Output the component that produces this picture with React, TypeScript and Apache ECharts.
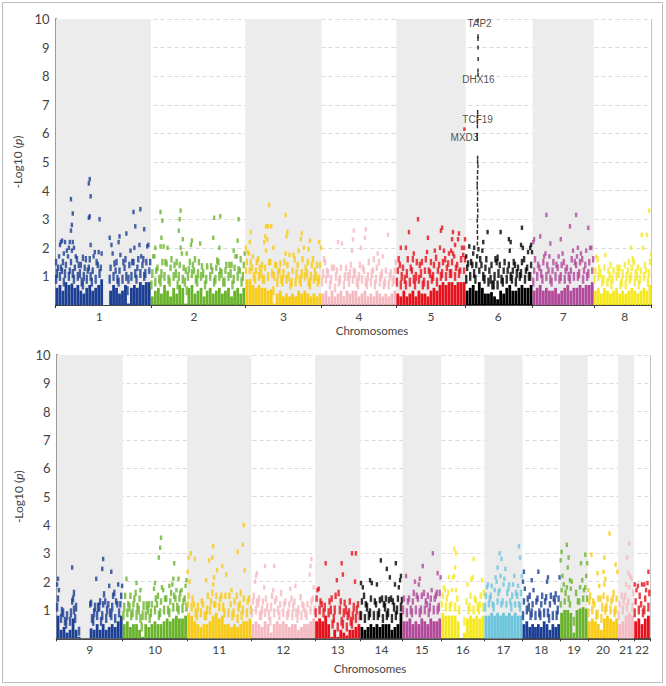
import React, { useEffect, useRef } from "react";
import * as echarts from "echarts";

// Chromosome spans (Mb as fitted to the plot)
const topNames = ["1", "2", "3", "4", "5", "6", "7", "8"];
const topLengths = [246, 244, 197, 193, 179, 173, 158, 149];
const bottomNames = ["9", "10", "11", "12", "13", "14", "15", "16", "17", "18", "19", "20", "21", "22"];
const bottomLengths = [141, 137, 137, 135.5, 96.5, 89.5, 82.5, 92, 81, 80, 59, 64.5, 34, 34];
const topColors = ["#1c3f94", "#6ab42d", "#f9cb14", "#f5b9c2", "#e8121d", "#000000", "#b2499b", "#f5e91e"];
const bottomColors = ["#1c3f94", "#6ab42d", "#f9cb14", "#f5b9c2", "#e8121d", "#000000", "#b2499b", "#f5e91e", "#6cc5dc", "#1c3f94", "#6ab42d", "#f9cb14", "#f5b9c2", "#e8121d"];

// Each column: first value is the solid height, the rest are separate hits above it
const chr1 = [[.6,.9,1.1,1.3,1.5],[.7,1,1.3,1.7,2.1,2.2],[.5,.8,1.2,1.5,1.8,2.25],[.8,1.1,1.4,1.9,2.2],[.7,1,1.2,1.7,2,2.2],[.75,1.1,1.5,1.9,2.2,2.6,2.8,3.2,3.7],[.6,.9,1.3,1.7,2],[.7,1,1.4,1.6],[.5,.8,1.1,1.4],[.4,.7,1,1.3,1.65],[.6,.9,1.2,1.6],[.7,1,1.3,1.6,2.1,3.05,3.1,3.8,4.25,4.4],[.5,.8,1.2,1.7],[.6,.9,1.5,1.85],[.7,1.1,1.4,1.85,3],[.9,1.3,1.8],[0],[0],[.5,.9,1.3,2.1,2.35],[.7,1,1.45,1.8],[.6,.9,1.2,1.5],[.4,.8,1.2,1.75,2.2,2.4],[.5,.9,1.5],[.7,1,1.3,1.6,2.5],[.05,.5,.9,1.4],[.6,1,1.5,1.9],[.7,1.1,1.5,2,2.75,3.25],[.6,.9,1.3,1.6],[.8,1.1,1.7,2.1,3.35],[.7,1,1.4,1.6,2.65],[.8,1.1,1.5,2.05],[.8,1.2,1.5,2.1]];
const chr2 = [[.3,.7,1.1,1.7],[.5,.8,1.2,1.7,2],[.6,.9,1.3],[.4,.8,1.1,1.5,2.05,2.35,2.95,3.25],[.7,1,1.5,2.05],[.5,.9,1.45,2],[.3,.8,1.3,1.6],[.6,1,1.4],[.4,.7,1.1,1.5],[.7,1,1.4,2,2.6,3,3.3],[.6,.9,1.3,1.8,2.3],[.05,.5,.8,1.2,1.8],[.6,1,1.25,1.5],[.7,1.1,1.4,2.1,2.25],[.4,.9,1.2,1.6],[.5,.8,1.1,1.5],[.6,1,1.35,2.15],[.3,.7,1.1],[.5,.9,1.35],[.6,1,1.35],[.4,.8,1.2,2.35,3.05],[.5,.9,1.3,1.55],[.6,1,1.2,1.5,2,3.1],[.4,.8,1.1],[.5,.8,1.2,1.4],[.6,1,1.4],[.3,.7,1.1,1.4],[.5,.9,1.3,1.7,1.9],[.6,1,1.25,1.7,2.25,3],[.4,.8,1.2,1.6],[.6,1,1.4,1.8]];
const chr3 = [[.9,1.2,1.5,1.85,2],[.9,1.2,1.5,1.8,2.2,2.55],[.7,1,1.3,1.7],[.6,.9,1.2,1.5],[.7,1,1.3,1.6],[.6,.9,1.1,1.4],[.6,.9,1.3,1.9,2.2,2.4,2.75],[.5,1,1.5,2.3,2.75,3.5],[.55,1.1,1.5,2.75],[.05,.5,1,1.4,2],[.4,.8,1.1,1.4],[.5,.9,1.2,1.45],[.3,.8,1.1,1.5],[.4,.9,1.4,1.8,2.4,2.55,3.15],[.3,.7,1,1.75],[.4,.8,1.2,1.75],[.3,.8,1.1,1.6],[.5,.9,1.4,1.9],[.4,.8,1.1,1.6,2.3,2.5],[.5,1,1.3,2],[.4,.8,1.1,1.5,1.95],[.3,.7,1,1.4,2.25],[.4,.9,1.2,1.6],[.3,.8,1,1.4],[.4,.9,1.4,2,2.2]];
const chr4 = [[.4,.8,1.1,1.6],[.5,.9,1.2,1.5],[.3,.7,1.1],[.5,.9,1.3],[.3,.6,1,1.3],[.4,.8,1.2,2.2],[.5,.9,1.3,2.15],[.3,.7,1],[.5,1,1.3],[.4,.8,1.1,1.4],[.5,.9,1.2,1.9,2.3,2.6],[.5,.8,1.1],[.3,.7,1,1.4],[.4,.9,1.3,2],[.5,.8,1.2,2.35,2.65],[.3,.7,1,1.5],[.4,.8,1.1],[.3,.7,1.2,1.6],[.5,.9,1.3,1.8],[.4,.8,1,1.5],[.3,.7,1.1,1.7],[.4,.8,1.2],[.3,.7,1,2.45],[.4,.8,1.1],[.5,.9,1.2,1.5]];
const chr5 = [[.4,.8,1.2,1.6],[.3,.7,1,1.4,2],[.5,.9,1.3],[.3,.7,1.1,1.6,2],[.4,.8,1.3,2.55],[.5,.9,1.2,1.6,1.8],[.3,.7,1,1.5],[.5,.9,1.4,3],[.4,.7,1.1,1.5],[.4,.8,1.2,1.6],[.3,.7,1.2,1.85,2.35],[.5,.9,1.1,1.5],[.6,1,1.4,1.9],[.5,.8,1.2,1.65],[.7,1,1.4,2,2.6],[.8,1.1,1.5,1.9,2.7],[.7,1,1.3,1.6],[.8,1.1,1.45,1.8],[.8,1.1,1.5,1.8,1.9,2.3,2.55],[.7,1,1.3,1.7,2.1],[.8,1.1,1.4,2.3,2.5],[.8,1.2,1.6,2],[.8,1.2,1.6,1.75,2,2.3]];
const chr6 = [[.5,.9,1.3,1.45,1.7],[.6,1,1.5,2.05],[.7,1.1,1.4,1.8,2],[.5,.9,1.4,1.7],[.8,1.2,1.6,1.95],[.6,1,1.4,1.9,2.2],[.4,.9,1.3,1.6],[.4,.8,1.2,2.55],[.45,.7,.9,1.4],[.3,.7,1,1.6],[.2,.7,1.1,1.5,1.65],[.5,.9,1.4,2.55],[.4,.8,1.2,1.5],[.6,.9,1.2],[.7,1,1.4,1.9,2.2,2.3],[.5,.9,1.2,1.5],[.5,.8,1.1,1.4],[.6,1,1.3],[.7,1.1,1.5,2,2.1,2.7],[.6,.9,1.2,1.6],[.6,1,1.3,1.85],[.7,1,1.4,1.85,2,2.1]];
const chr7 = [[.5,.8,1.2,1.6,2.2,2.3],[.6,1,1.4],[.7,1.1,1.3,2.4],[.5,.9,1.5,1.7],[.6,1,1.4,1.8,3.15],[.5,.9,1.2,1.7,2.15],[.5,.8,1.2,1.5],[.6,1,1.4],[.4,.9,1.3,1.7],[.5,1,1.4,1.8,2.3],[.6,.9,1.2,1.5],[.7,1,1.3],[.5,.9,1.2,1.6,2.75],[.6,1,1.5,1.9],[.6,1,1.4,1.7,2,3.15],[.7,1.1,1.5,1.8],[.6,.9,1.2,1.6],[.7,1,1.4,1.9],[.7,1.1,1.5,2,2.7],[.8,1.2,1.6,2]];
const chr8 = [[.5,.9,1.2,1.7],[.6,1,1.3,1.6],[.4,.8,1.1],[.6,.9,1.3,1.75],[.5,.8,1.2],[.4,.7,1,1.4],[.5,.9,1.2],[.6,1,1.3],[.4,.7,1.1,1.3],[.5,.8,1.1],[.4,.7,1,1.4],[.5,.9,1.2,1.5],[.6,1,1.3,1.6,2],[.5,.8,1.1,1.5],[.4,.7,1,1.3],[.5,.9,1.2,2.45],[.6,1,1.4,2],[.5,.8,1.2,2.45],[.7,1.1,1.5,1.75,3.3]];
const chr9 = [[.8,1.1,1.4,1.7,1.9,2.1],[.3,.7,.95],[.4,.6,.9],[.2,.5,.8],[.3,.6,.9],[.7,1,1.3,1.4,1.6,2.5],[.3,.7,1.1],[.05,.25],[0],[0],[0],[.35,.7,1.2,1.25],[.3,.6,.9,1.1],[.5,.8,1.1,2.1],[.3,.6,1.1,1.3],[.5,.8,1.2,1.55,2.45,2.8],[.3,.7,1,1.3],[.4,.9,1.2,1.85],[.5,.8,1.1,1.5,2.35],[.4,.7,1.3,1.6],[.6,.9,1.2,1.9],[.8,1.2,1.5,1.85]];
const chr10 = [[.5,.8,1.1,1.5],[.6,.9,1.2,2.1],[.4,.8,1.1,1.5],[.5,.9,1.2,1.4],[.5,.8,1.1,1.6,1.95],[.3,.7,1,1.4,1.7],[.05,.4,.8,1.15],[.5,.8,1.15],[.4,.7,1,1.2],[.5,.9,1.2],[.6,1,1.4,1.75,1.95],[.5,.8,1.2,1.5,2.85],[.5,.9,1.3,1.8,3.2,3.55],[.6,1,1.4,1.7],[.7,1,1.4],[.6,.9,1.3,1.6,1.85],[.7,1.1,1.5,1.9,2.1,2.65],[.8,1.1,1.4,1.7],[.7,1,1.4,1.6,2.1],[.7,1.05,1.3,1.7],[.8,1.1,1.4,1.85,2.05]];
const chr11 = [[.9,1.2,1.5,2,2.35,2.85],[.8,1.1,1.4,3],[.6,.9,1.2,2.8],[.5,.8,1.1],[.4,.9,1.3],[.5,.8,1.2],[.5,.8,1,1.5,2.05],[.6,1,1.3,2.75],[.8,1.2,1.6,1.9,2.15,2.85,3.25],[.9,1.2,1.5,2.4],[.7,1.1,1.4],[.8,1.1,1.5,2.55],[.5,.9,1.5,2.25],[.5,.9,1.5],[.4,.8,1.2,1.7],[.5,.9,1.3],[.4,.7,1.1,1.5,3.05],[.5,.8,1.2,1.6],[.6,1,1.4,2.4,3.3,4],[.6,.9,1.3],[.7,1,1.4]];
const chr12 = [[.5,.9,1.3,1.5],[.6,1,1.3,2,2.2,2.3],[.5,.8,1.2,1.4],[.4,.8,1,1.3],[.6,.9,1.4,1.8,2.55],[.5,.8,1.1],[.2,.6,1.1,1.5],[.5,.9,1.3,1.7,2.55],[.6,1,1.4],[.5,.8,1.2,1.6],[.6,.9,1.2],[.5,.8,1.3],[.4,.9,1.2,1.75],[.5,.8,1.1,1.4],[.5,.9,1.3,1.85],[.3,.7,1],[.4,.8,1.2,1.45],[.5,.9,1.1],[.5,.8,1.2],[.6,1,1.3,2.25,2.55,2.8],[.7,1,1.4,1.8]];
const chr13 = [[.6,.9,1.4,1.7],[.7,1,1.3,1.75],[.6,.9,1.2],[.8,1.1,2.65],[.5,.9,1.3],[.05,.5,1,1.4],[.3,.7,1,1.5],[.05,.4,1.6,2.05],[.3,.6,1,1.3,2.65],[.2,.5,.9,1.25,2.25],[.1,.4,.8,1],[.3,.6,.9,1.3],[.3,.5,.8,1.1,3],[.4,.7,1,2,3],[.5,.8,1.2]];
const chr14 = [[.4,.8,1.3,1.8,1.95],[.3,.7,1.2,1.5],[.4,.8,1.1],[.5,.9,1.4,1.95,2.05],[.4,.8,1.3],[.5,.8,1.2,1.9],[.4,.9,1.35,2.75],[.5,.7,1.2,1.4],[.5,.8,1.1,1.4,2.45],[.5,.9,1.35,2.15],[.3,.7,1.3,1.4],[.4,.8,1.1,1.9,2.65],[.5,1,1.4,1.8],[.9,1.1,1.35,2.05,2.2]];
const chr15 = [[.6,1,1.4],[.6,.9,1.3,2.2],[.7,1,1.4],[.5,.9,1.3,1.6],[.6,1,1.5,2],[.5,.9,1.4,1.9,2.1],[.7,1,1.5,2.55],[.6,1,1.3,1.6],[.5,.9,1.2,1.5],[.7,1.1,1.4,1.7],[.6,1,1.4,3],[.6,1,1.5,1.6,2.3],[.7,1.1,1.6,2.15]];
const chr16 = [[.9,1.2,1.5,1.8],[.8,1.1,1.4,1.7],[.8,1.1,1.6,2.15],[.8,1.2,1.7,2.15],[.8,1.1,1.7,2.2,2.5,3,3.15],[.6,1,1.4],[0],[.2,.6],[.7,1,1.3,1.9],[.8,1.1,1.5,2.1],[.7,1,1.4,2.15,2.8],[.8,1.1,1.35],[.7,1,1.2,1.5],[.8,1.1,1.6,2.05]];
const chr17 = [[.8,1.1,1.5,1.8],[.8,1.2,1.4,1.9],[.9,1.2,1.5,1.85],[.8,1.1,1.7,2.15],[.9,1.3,1.6,2,2.5],[.8,1.2,1.7,2.2,2.8,3],[.9,1.3,1.9,2.1],[.8,1.2,1.6,2.45],[.9,1.3,1.75,1.9],[.8,1.1,1.5,1.9],[.9,1.2,1.6,2.2],[.8,1.2,1.5,1.85,3.25],[.8,1.1,1.6,2.2,2.85]];
const chr18 = [[.5,.8,1.3,1.75,2,2.35],[.6,1,1.4],[.4,.8,1.1,1.5],[.5,.9,1.2,1.7,2.05],[.4,.8,1.3],[.5,.9,1.4,2.35],[.4,.8,1.2,1.5],[.6,.9,1.3],[.5,.9,1.45,2,2.15],[.3,.7,1.2,1.5],[.5,.8,1.4],[.4,.8,1.3,1.55],[.5,1,1.4,2.15]];
const chr19 = [[.9,1.2,1.7,2.2,2.75,3.05],[1,1.3,1.6,1.9],[1,1.4,1.8,2.5,2.85,3.3],[.9,1.2,1.75,2,2.05],[.2,.6],[1,1.3,1.6],[1.05,1.3,1.8,2.65],[1.1,1.4,1.7,2.05],[1.05,1.4,1.8,2.2,2.65,2.95]];
const chr20 = [[.6,.9,1.3,1.5,1.7],[.7,1,1.3,2.95],[.6,.8,1.2],[.5,.85,1.4,1.85,2.3],[.3,.7,1.1,1.4],[.7,1,1.5,1.9,2.1,2.35,2.85],[.8,1.1,1.4],[.7,1,1.3,3.7],[.6,.9,1.4,1.6],[.7,1,1.4,2.35,2.6]];
const chr21 = [[.5,.8,1.2],[.6,1,1.3,1.5],[.8,1.1,1.5,1.9,2.85],[.9,1.3,1.8,2.2,2.3,3.35],[.8,1.1,1.6,2.1]];
const chr22 = [[.6,.9,1.3,1.7,1.9],[.7,1,1.5,1.85],[.5,.9,1.2,1.9],[.7,1,1.4,1.7,1.9],[.8,1.1,1.6,1.95,2.35]];

const topColumns = [chr1, chr2, chr3, chr4, chr5, chr6, chr7, chr8];
const bottomColumns = [chr9, chr10, chr11, chr12, chr13, chr14, chr15, chr16, chr17, chr18, chr19, chr20, chr21, chr22];

// The MHC peak on chromosome 6: Mb from the chromosome's start, -log10(p)
const chr6Peak = [[32,9.95],[32,9.4],[32,9.3],[32,9],[32.5,8.6],[32,8.2],[32,8.05],[31,6.75],[31,6.6],[30.5,6.4],[30.5,6.25],[30,5.95],[30,5.8],[31,5.15],[31,5],[32,4.85],[31,4.65],[30.5,4.45],[30,4.25],[30,4.1],[31,3.9],[31,3.7],[30.5,3.5],[31.5,3.3],[31,3.1],[30,2.95],[31,2.75],[30,2.55],[31,2.35],[30.5,2.15]];
const mxd3Hit = [176, 6.15];
// Gene labels: name, chromosome index in the top row, Mb from that chromosome's start, height
const geneNames = ["TAP2", "DHX16", "TCF19", "MXD3"];
const geneChroms = [5, 5, 5, 5];
const genePositions = [36, 33, 31, -3];
const geneHeights = [9.86, 7.9, 6.47, 5.87];

const topLabelOffsets = [-4, -4, 0, 0, 0, -1, 0, 2];
const bottomLabelOffsets = [0, 0, 0, 0, 0, 0, 0, 0, 0, 0, 0, 0, 0, 0];

const TEXT = "#444";
const FONT = "Lato, 'Open Sans', sans-serif";

function starts(lengths: number[]) {
  const out = [0];
  lengths.forEach((l) => out.push(out[out.length - 1] + l));
  return out;
}

function hitSize(v: number[]) {
  const y = v[1];
  if (y < 1.2) return [2.4, 9];
  if (y < 1.7) return [2.4, 6.5];
  return [2.4, 4.5];
}

function buildRow(
  index: number,
  lengths: number[],
  names: string[],
  colors: string[],
  columns: number[][][],
  offsets: number[],
  pxPerMb: number
) {
  const edges = starts(lengths);
  const bars: any[] = [];
  const series: any[] = [];
  const bands: any[] = [];
  const labelValues: number[] = [];
  const labelText = new Map<number, string>();
  lengths.forEach((len, c) => {
    if (c % 2 === 0) bands.push([{ xAxis: edges[c] }, { xAxis: edges[c + 1] }]);
    const lv = edges[c] + len / 2 + offsets[c] / pxPerMb;
    labelValues.push(lv);
    labelText.set(lv, names[c]);
    const pts: number[][] = [];
    const cols = columns[c];
    cols.forEach((col, i) => {
      const x = edges[c] + ((i + 0.5) * len) / cols.length;
      if (col[0] > 0) bars.push({ value: [x, col[0]], itemStyle: { color: colors[c] } });
      col.slice(1).forEach((y, j) => {
        const shift = (((j + i) % 3) - 1) * 0.9;
        pts.push([x + shift / pxPerMb, y]);
      });
    });
    series.push({
      type: "scatter",
      xAxisIndex: index,
      yAxisIndex: index,
      symbol: "rect",
      symbolSize: hitSize,
      itemStyle: { color: colors[c] },
      data: pts,
      silent: true,
      z: 3,
    });
  });
  series.push({
    type: "bar",
    xAxisIndex: index,
    yAxisIndex: index,
    barWidth: 2.8,
    data: bars,
    silent: true,
    z: 3,
  });
  series.push({
    type: "scatter",
    xAxisIndex: index,
    yAxisIndex: index,
    data: [],
    silent: true,
    z: -1,
    markArea: { silent: true, itemStyle: { color: "#ececec" }, data: bands },
  });
  const xAxis = {
    gridIndex: index,
    type: "value",
    min: 0,
    max: edges[edges.length - 1],
    splitLine: { show: false },
    axisLine: { show: true, lineStyle: { color: "#111", width: 1.5 } },
    axisTick: { show: true, length: 3, lineStyle: { color: "#333" }, customValues: edges },
    axisLabel: {
      show: true,
      customValues: labelValues,
      formatter: (v: number) => labelText.get(v) ?? "",
      color: TEXT,
      fontFamily: FONT,
      fontSize: 12,
      margin: 5,
    },
  };
  const yAxis = {
    gridIndex: index,
    type: "value",
    min: 0,
    max: 10,
    interval: 1,
    name: "-Log10 ({i|p})",
    nameLocation: "middle",
    nameRotate: 90,
    nameGap: 32,
    nameTextStyle: {
      color: TEXT,
      fontFamily: FONT,
      fontSize: 12,
      rich: { i: { fontStyle: "italic", color: TEXT, fontFamily: FONT, fontSize: 12 } },
    },
    splitLine: { show: true, lineStyle: { color: "#d9d9d9", type: [4, 3], width: 1 } },
    axisLine: { show: true, lineStyle: { color: "#111", width: 1.5 } },
    axisTick: { show: true, inside: true, length: 2, lineStyle: { color: "#333" } },
    axisLabel: {
      color: TEXT,
      fontFamily: FONT,
      fontSize: 13,
      margin: 6,
      formatter: (v: number) => (v === 0 ? "" : String(v)),
    },
  };
  return { series, xAxis, yAxis, edges };
}

export default function App() {
  const ref = useRef<HTMLDivElement>(null);
  useEffect(() => {
    const chart = echarts.init(ref.current!, undefined, { renderer: "svg" });
    const top = buildRow(0, topLengths, topNames, topColors, topColumns, topLabelOffsets, 0.3875);
    const bottom = buildRow(1, bottomLengths, bottomNames, bottomColors, bottomColumns, bottomLabelOffsets, 0.47);
    const chr6Start = top.edges[5];
    const extras: any[] = [
      {
        type: "scatter",
        xAxisIndex: 0,
        yAxisIndex: 0,
        symbol: "rect",
        symbolSize: [1.5, 4],
        itemStyle: { color: "#000" },
        data: chr6Peak.map((p) => [chr6Start + p[0], p[1]]),
        silent: true,
        z: 4,
      },
      {
        type: "scatter",
        xAxisIndex: 0,
        yAxisIndex: 0,
        symbol: "rect",
        symbolSize: [2.5, 3.5],
        itemStyle: { color: "#e8121d" },
        data: [[top.edges[4] + mxd3Hit[0], mxd3Hit[1]]],
        silent: true,
        z: 4,
      },
      {
        type: "scatter",
        xAxisIndex: 0,
        yAxisIndex: 0,
        symbolSize: 1,
        itemStyle: { color: "transparent" },
        data: geneNames.map((n, i) => ({
          name: n,
          value: [top.edges[geneChroms[i]] + genePositions[i], geneHeights[i]],
        })),
        label: {
          show: true,
          position: "inside",
          formatter: "{b}",
          color: "#222",
          fontFamily: "'Liberation Sans', sans-serif",
          fontSize: 10,
        },
        silent: true,
        z: 5,
      },
    ];
    const option: any = {
      animation: false,
      backgroundColor: "#fff",
      grid: [
        { left: 55.5, top: 19, width: 596, height: 286, show: false },
        { left: 56.5, top: 355, width: 593.5, height: 283.3, show: false },
      ],
      xAxis: [top.xAxis, bottom.xAxis],
      yAxis: [top.yAxis, bottom.yAxis],
      series: [...top.series, ...bottom.series, ...extras],
      graphic: [
        { type: "rect", silent: true, z: -10, shape: { x: 2.5, y: 2.5, width: 660, height: 680 }, style: { fill: "none", stroke: "#bdbdbd", lineWidth: 1 } },
        { type: "line", silent: true, shape: { x1: 651.5, y1: 19, x2: 651.5, y2: 305 }, style: { stroke: "#c4c4c4", lineWidth: 1 } },
        { type: "line", silent: true, shape: { x1: 650.5, y1: 355, x2: 650.5, y2: 638 }, style: { stroke: "#c4c4c4", lineWidth: 1 } },
        { type: "text", silent: true, x: 372, y: 330, style: { text: "Chromosomes", fill: TEXT, font: `11.5px ${FONT}`, textAlign: "center", textVerticalAlign: "middle" } },
        { type: "text", silent: true, x: 370, y: 668, style: { text: "Chromosomes", fill: TEXT, font: `11.5px ${FONT}`, textAlign: "center", textVerticalAlign: "middle" } },
      ],
    };
    chart.setOption(option);
    return () => chart.dispose();
  }, []);
  return <div ref={ref} style={{ position: "absolute", left: 0, top: 0, width: 666, height: 686 }} />;
}
